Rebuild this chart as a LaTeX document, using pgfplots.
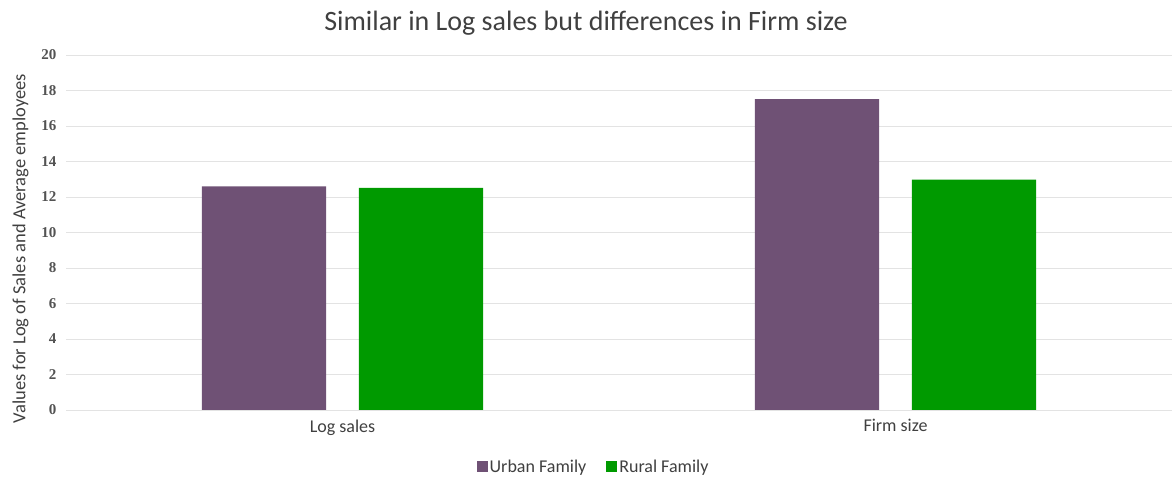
\documentclass[border=0pt]{standalone}
\usepackage{fontspec}
\setmainfont{Carlito}
\newfontfamily\tickfont{Liberation Serif}
\usepackage{pgfplots}
\pgfplotsset{compat=1.18}
\definecolor{urban}{HTML}{6F5175}
\definecolor{rural}{HTML}{009A00}
\definecolor{txt}{HTML}{404040}
\definecolor{gridc}{HTML}{E3E3E3}
\begin{document}
\begin{tikzpicture}
\path[use as bounding box] (-60pt,-68pt) rectangle (1114pt,410pt);
\begin{axis}[
  at={(6pt,0pt)}, anchor=south west,
  scale only axis,
  width=1106pt, height=355pt,
  ybar,
  ymin=0, ymax=20, ytick={0,2,...,20},
  xmin=-0.5, xmax=1.5,
  xtick={0,1}, xticklabels={Log sales, Firm size},
  axis line style={draw=none},
  major tick length=0pt,
  xmajorgrids=false, ymajorgrids=true,
  grid style={draw=gridc, line width=0.8pt},
  /pgf/number format/assume math mode=true,
  yticklabel style={font=\fontsize{15}{17}\selectfont\tickfont\bfseries, text=txt!90, xshift=-6pt},
  xticklabel style={font=\fontsize{18}{20}\selectfont, text=txt, yshift=-6pt},
  ylabel={Values for Log of Sales and Average employees},
  ylabel style={font=\fontsize{18.5}{21}\selectfont, text=txt, yshift=6pt, xshift=-16pt},
  title={Similar in Log sales but differences in Firm size},
  title style={font=\fontsize{28}{32}\selectfont, text=txt, yshift=10pt, xshift=-33pt},
  legend style={at={(0.477,-0.16)}, anchor=center, draw=none,
    legend columns=2, font=\fontsize{18}{20}\selectfont, text=txt,
    /tikz/every even column/.append style={column sep=18pt}},
  legend image code/.code={\fill[#1] (0pt,-5pt) rectangle (11pt,6pt);},
  bar width=0.225,
]
\addplot[fill=urban, draw=none, bar shift=-0.142] coordinates {(0,12.6) (1,17.52)};
\addplot[fill=rural, draw=none, bar shift=0.142] coordinates {(0,12.52) (1,12.98)};
\draw[gridc!80!gray, line width=0.8pt] (axis cs:-0.5,0) -- (axis cs:1.5,0);
\legend{Urban Family, Rural Family}
\end{axis}
\end{tikzpicture}
\end{document}
